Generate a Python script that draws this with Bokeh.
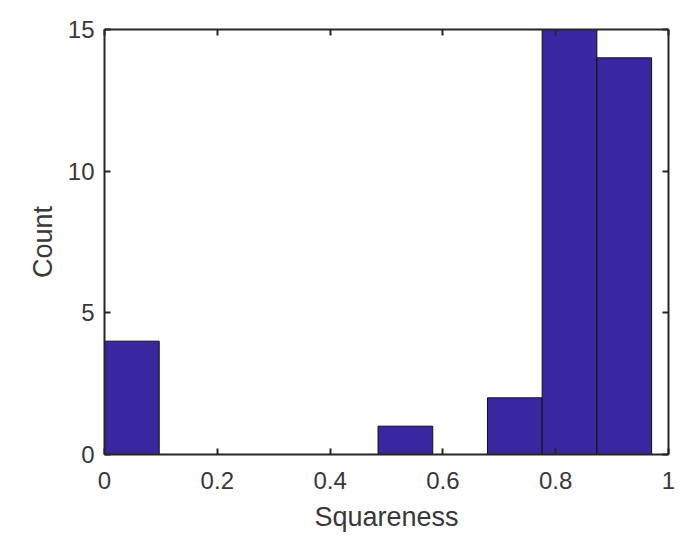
from bokeh.plotting import figure
from bokeh.models import LinearAxis, FixedTicker, Range1d, ColumnDataSource
from bokeh.embed import file_html
from bokeh.resources import INLINE

# Histogram data (bin width 0.097)
bin_edges = [0.0, 0.097, 0.194, 0.291, 0.388, 0.485, 0.582, 0.679, 0.776, 0.873, 0.970]
counts = [4, 0, 0, 0, 0, 1, 0, 2, 15, 14]
x_ticks = [0, 0.2, 0.4, 0.6, 0.8, 1.0]
x_tick_labels = ["0", "0.2", "0.4", "0.6", "0.8", "1"]
y_ticks = [0, 5, 10, 15]
y_tick_labels = ["0", "5", "10", "15"]

AXC = "#262626"
TXT = "#383838"
FONT = "Liberation Sans"

src = ColumnDataSource(dict(left=[e for e, c in zip(bin_edges[:-1], counts) if c > 0],
                            right=[e for e, c in zip(bin_edges[1:], counts) if c > 0],
                            top=[c for c in counts if c > 0]))

p = figure(width=700, height=549, output_backend="svg", toolbar_location=None,
           x_range=Range1d(0, 1), y_range=Range1d(0, 15),
           x_axis_location=None, y_axis_location=None,
           min_border_left=104, min_border_right=32, min_border_top=29, min_border_bottom=95)
p.outline_line_color = None
p.grid.visible = False
p.background_fill_color = "white"
p.border_fill_color = "white"

p.quad(left="left", right="right", top="top", bottom=0, source=src,
       fill_color="#3927a0", line_color="#111111", line_width=1)

def style(ax, ticks, labels, show):
    ax.ticker = FixedTicker(ticks=ticks)
    ax.axis_line_color = AXC
    ax.axis_line_width = 2
    ax.major_tick_line_color = AXC
    ax.major_tick_line_width = 2
    ax.major_tick_in = 6
    ax.major_tick_out = 0
    ax.minor_tick_line_color = None
    if show:
        ax.major_label_overrides = {t: l for t, l in zip(ticks, labels)}
        ax.major_label_text_font = FONT
        ax.major_label_text_font_size = "24px"
        ax.major_label_text_color = TXT
        ax.axis_label_text_font = FONT
        ax.axis_label_text_font_size = "27px"
        ax.axis_label_text_font_style = "normal"
        ax.axis_label_text_color = TXT
    else:
        ax.major_label_overrides = {t: "" for t in ticks}
        ax.major_label_text_font_size = "0px"

xb = LinearAxis(axis_label="Squareness")
style(xb, x_ticks, x_tick_labels, True)
xb.major_label_standoff = 17
xb.axis_label_standoff = 10
p.add_layout(xb, "below")

yl = LinearAxis(axis_label="Count")
style(yl, y_ticks, y_tick_labels, True)
yl.major_label_standoff = 10
yl.axis_label_standoff = 7
p.add_layout(yl, "left")

xt = LinearAxis()
style(xt, x_ticks, x_tick_labels, False)
p.add_layout(xt, "above")

yr = LinearAxis()
style(yr, y_ticks, y_tick_labels, False)
p.add_layout(yr, "right")

open("out.html", "w").write(file_html(p, INLINE))
